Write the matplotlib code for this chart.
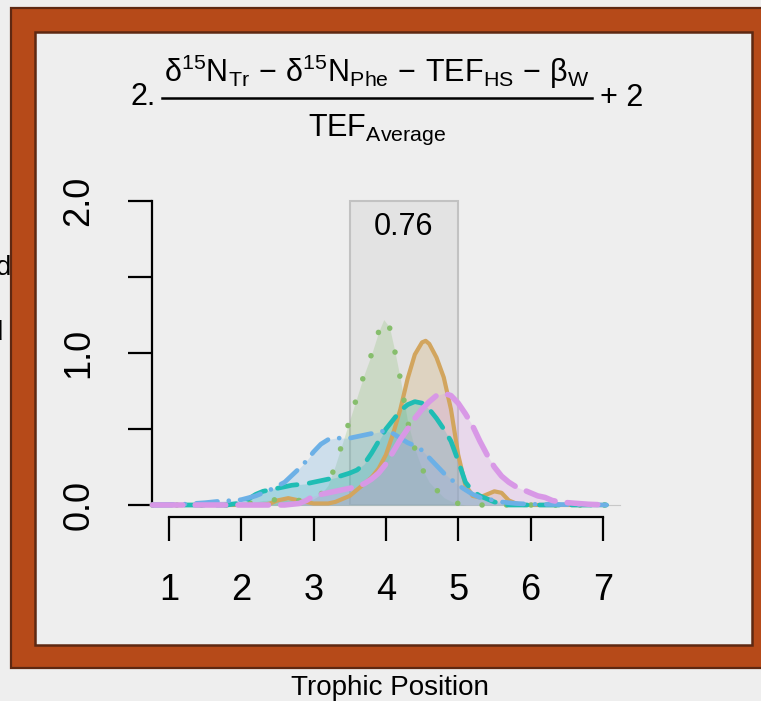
import matplotlib
matplotlib.use("Agg")
import matplotlib.pyplot as plt
from matplotlib.patches import Rectangle
from matplotlib.lines import Line2D

plt.rcParams['font.family'] = ['Liberation Sans', 'DejaVu Sans']
plt.rcParams['mathtext.fontset'] = 'custom'
plt.rcParams['mathtext.rm'] = 'Liberation Sans'
plt.rcParams['mathtext.it'] = 'Liberation Sans'
plt.rcParams['mathtext.bf'] = 'Liberation Sans:bold'
plt.rcParams['mathtext.default'] = 'regular'

# ---------------- data ----------------
orange_x = [0.77, 2.3, 2.4, 2.5, 2.65, 2.8, 3.0, 3.2, 3.3, 3.5, 3.6, 3.7, 3.8, 3.9, 4.0, 4.1,
            4.2, 4.3, 4.4, 4.5, 4.55, 4.6, 4.7, 4.8, 4.9, 5.0, 5.1, 5.2, 5.3, 5.4, 5.5,
            5.6, 5.7, 5.8, 5.9, 7.05]
orange_y = [0.0, 0.0, 0.01, 0.03, 0.045, 0.03, 0.01, 0.01, 0.02, 0.06, 0.10, 0.14, 0.18, 0.24, 0.33, 0.47,
            0.63, 0.83, 0.99, 1.07, 1.08, 1.06, 0.97, 0.84, 0.63, 0.33, 0.13, 0.06, 0.05, 0.07, 0.09,
            0.08, 0.03, 0.01, 0.0, 0.0]

green_x = [0.77, 2.0, 2.2, 2.3, 2.5, 2.7, 2.9, 3.0, 3.1, 3.2, 3.3, 3.4, 3.5, 3.6, 3.7, 3.8,
           3.9, 3.97, 4.05, 4.12, 4.2, 4.3, 4.4, 4.5, 4.6, 4.7, 4.8, 4.9, 5.0, 5.1, 7.05]
green_y = [0.0, 0.0, 0.02, 0.03, 0.035, 0.03, 0.03, 0.04, 0.07, 0.13, 0.26, 0.41, 0.56, 0.71, 0.86, 0.99,
           1.14, 1.22, 1.17, 1.02, 0.83, 0.55, 0.37, 0.24, 0.15, 0.10, 0.05, 0.025, 0.01, 0.0, 0.0]

teal_x = [0.77, 1.8, 1.95, 2.1, 2.2, 2.3, 2.5, 2.7, 2.9, 3.1, 3.3, 3.5, 3.6, 3.7, 3.8, 3.9,
          4.0, 4.1, 4.2, 4.3, 4.4, 4.5, 4.6, 4.7, 4.8, 4.9, 5.0, 5.1, 5.2, 5.3, 5.4, 5.5,
          5.6, 5.7, 7.05]
teal_y = [0.0, 0.0, 0.01, 0.04, 0.07, 0.09, 0.11, 0.13, 0.14, 0.16, 0.18, 0.21, 0.23, 0.27, 0.34, 0.42,
          0.50, 0.56, 0.62, 0.66, 0.68, 0.67, 0.63, 0.57, 0.50, 0.42, 0.29, 0.15, 0.09, 0.06, 0.04, 0.02,
          0.01, 0.0, 0.0]

blue_x = [0.77, 1.2, 1.5, 1.7, 1.9, 2.0, 2.2, 2.4, 2.6, 2.8, 2.9, 3.0, 3.1, 3.2, 3.3, 3.4,
          3.5, 3.6, 3.7, 3.8, 3.9, 4.0, 4.1, 4.2, 4.3, 4.4, 4.5, 4.6, 4.7, 4.8, 4.9, 5.0,
          5.1, 5.2, 5.3, 5.4, 5.5, 5.6, 5.8, 6.0, 7.05]
blue_y = [0.0, 0.005, 0.015, 0.025, 0.03, 0.035, 0.06, 0.10, 0.15, 0.24, 0.29, 0.35, 0.40, 0.43, 0.44, 0.44,
          0.44, 0.45, 0.46, 0.47, 0.48, 0.49, 0.47, 0.44, 0.41, 0.39, 0.36, 0.31, 0.26, 0.21, 0.17, 0.13,
          0.10, 0.07, 0.05, 0.04, 0.03, 0.02, 0.01, 0.005, 0.0]

pink_x = [0.77, 2.6, 2.8, 2.9, 3.0, 3.2, 3.4, 3.6, 3.7, 3.8, 3.9, 4.0, 4.1, 4.2, 4.3, 4.4,
          4.5, 4.6, 4.7, 4.8, 4.9, 5.0, 5.1, 5.2, 5.3, 5.4, 5.5, 5.6, 5.7, 5.8, 5.9, 6.0,
          6.1, 6.2, 6.3, 6.4, 6.6, 6.8, 7.05]
pink_y = [0.0, 0.0, 0.01, 0.03, 0.06, 0.08, 0.10, 0.12, 0.14, 0.17, 0.21, 0.27, 0.35, 0.43, 0.50, 0.57,
          0.63, 0.68, 0.72, 0.735, 0.72, 0.67, 0.60, 0.52, 0.42, 0.33, 0.25, 0.19, 0.15, 0.12, 0.10, 0.08,
          0.06, 0.05, 0.03, 0.02, 0.012, 0.005, 0.0]

x_ticks = [1, 2, 3, 4, 5, 6, 7]
y_ticks = [0.0, 0.5, 1.0, 1.5, 2.0]
y_tick_labels = ['0.0', '', '1.0', '', '2.0']
box_range = (3.5, 5.0)
box_top = 2.0
box_label = '0.76'
x_label = 'Trophic Position'

# ---------------- figure ----------------
W, H = 761, 701
fig = plt.figure(figsize=(W / 100, H / 100), dpi=100)
fig.patch.set_facecolor('#eeeeee')

def fx(px):
    return px / W

def fy(py):
    return 1 - py / H

# outer orange frame
frame = Rectangle((fx(11), fy(668)), fx(800) - fx(11), fy(8) - fy(668), transform=fig.transFigure,
                  facecolor='#b64a19', edgecolor='#5e2812', linewidth=1.6, zorder=1)
fig.patches.append(frame)
# inner panel
panel = Rectangle((fx(35), fy(645)), fx(752) - fx(35), fy(32) - fy(645), transform=fig.transFigure,
                  facecolor='#eeeeee', edgecolor='#5e2812', linewidth=1.8, zorder=2)
fig.patches.append(panel)

# outside text fragments (cut by the crop, as in the reference)
fig.text(fx(11), fy(275), 'd', ha='right', va='baseline', fontsize=20, color='black', zorder=0.5)
fig.text(fx(3.5), fy(340), 'd', ha='right', va='baseline', fontsize=20, color='black', zorder=0.5)
fig.text(fx(390), fy(695), x_label, ha='center', va='baseline', fontsize=20, color='black')

# ---------------- axes ----------------
xl, xr = 0.6, 7.4
yb, yt = -0.3, 2.3
px_left = 169 + (xl - 1) * 72.3
px_right = 169 + (xr - 1) * 72.3
py_top = 505 - yt * 152
py_bot = 505 - yb * 152
ax = fig.add_axes([fx(px_left), fy(py_bot), fx(px_right) - fx(px_left), fy(py_top) - fy(py_bot)])
ax.set_zorder(3)
ax.patch.set_visible(False)
ax.set_xlim(xl, xr)
ax.set_ylim(yb, yt)

# highlighted box
ax.add_patch(Rectangle((box_range[0], 0), box_range[1] - box_range[0], box_top,
                       facecolor='#e3e3e3', edgecolor='#c2c2c2', linewidth=1.5, zorder=1))
ax.text(sum(box_range) / 2, 1.776, box_label, ha='center', va='baseline', fontsize=22, zorder=6)

# baseline
ax.plot([0.77, 7.24], [0, 0], color='#c8c8c8', lw=0.8, zorder=1.5)

series = [
    (orange_x, orange_y, '#d2a55e', '-', 3.0),
    (green_x, green_y, '#86be6c', (0, (0.01, 4.4)), 4.0),
    (teal_x, teal_y, '#1fbdb4', (0, (4.2, 2.6)), 3.4),
    (blue_x, blue_y, '#6cb0e6', (0, (4.5, 2.4, 0.01, 2.4)), 3.4),
    (pink_x, pink_y, '#d898e6', (0, (5.5, 2.2)), 4.0),
]
for xs, ys, c, ls, lw in series:
    ax.fill_between(xs, ys, 0, color=c, alpha=0.25, lw=0, zorder=2)
order = [1, 0, 2, 3, 4]
for i in order:
    xs, ys, c, ls, lw = series[i]
    ax.plot(xs, ys, color=c, linestyle=ls, lw=lw, dash_capstyle='round', solid_capstyle='round',
            zorder=3 + i * 0.1)

for s in ['top', 'right']:
    ax.spines[s].set_visible(False)
ax.spines['left'].set_position(('data', 0.765))
ax.spines['left'].set_bounds(0, 2)
ax.spines['bottom'].set_position(('data', -0.079))
ax.spines['bottom'].set_bounds(1, 7)
for s in ['left', 'bottom']:
    ax.spines[s].set_linewidth(1.6)
ax.set_xticks(x_ticks)
ax.set_xticklabels([str(t) for t in x_ticks], fontsize=26)
ax.set_yticks(y_ticks)
ax.set_yticklabels(y_tick_labels, fontsize=26, rotation=90, va='center')
ax.tick_params(axis='both', direction='out', length=17, width=1.6)
ax.tick_params(axis='x', pad=23)
ax.tick_params(axis='y', pad=23)

# ---------------- title formula ----------------
num = r'$\delta^{15}N_{Tr}\,-\,\delta^{15}N_{Phe}\,-\,TEF_{HS}\,-\,\beta_{W}$'
den = r'$TEF_{Average}$'
fig.text(fx(377), fy(82), num, ha='center', va='baseline', fontsize=22, zorder=6)
fig.text(fx(377), fy(136), den, ha='center', va='baseline', fontsize=22, zorder=6)
fig.add_artist(Line2D([fx(162), fx(592)], [fy(97.5), fy(97.5)], transform=fig.transFigure,
                      color='black', lw=1.8, zorder=6))
fig.text(fx(131), fy(105), '2.', ha='left', va='baseline', fontsize=22, zorder=6)
fig.text(fx(600), fy(106), '+ 2', ha='left', va='baseline', fontsize=22, zorder=6)

fig.savefig('out.png', dpi=100, facecolor=fig.get_facecolor())
